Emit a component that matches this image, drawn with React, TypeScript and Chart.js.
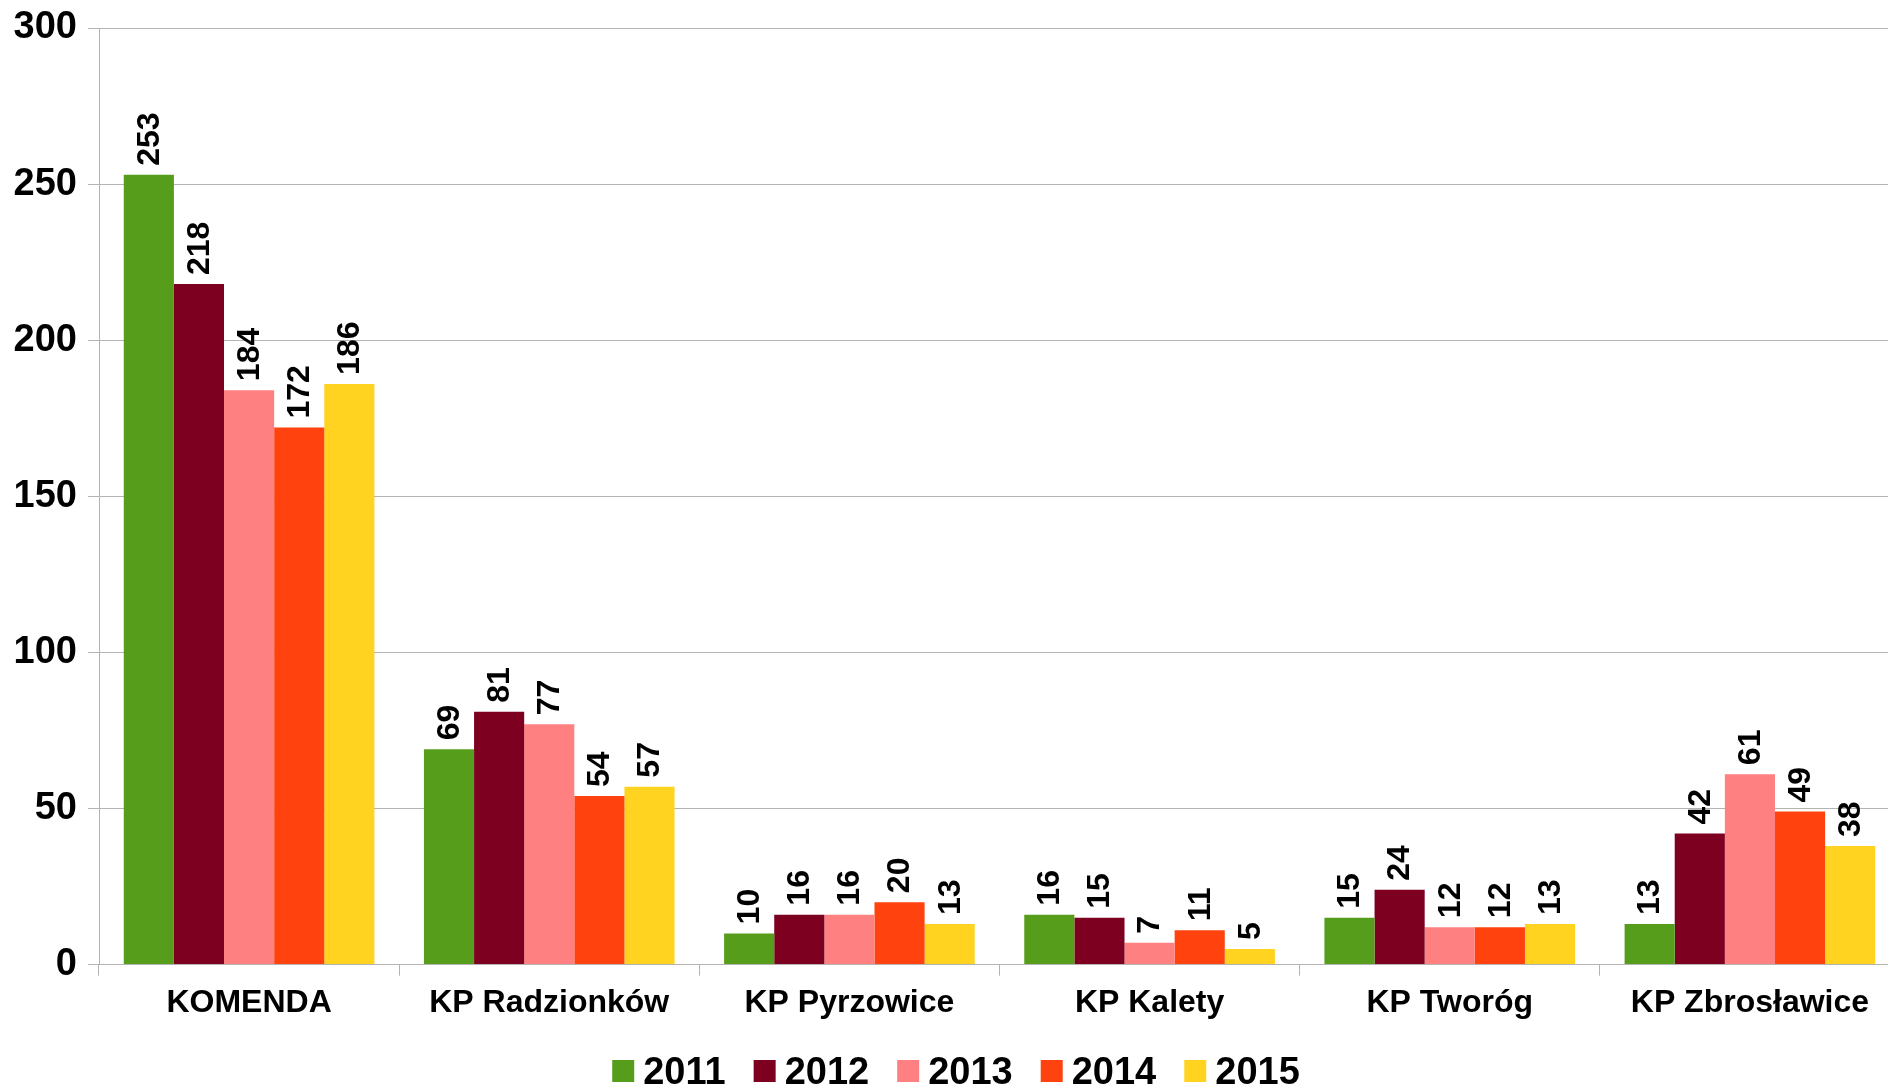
import React, { useEffect, useRef } from "react";
import { Chart, registerables } from "chart.js";

Chart.register(...registerables);

const categories = ["KOMENDA", "KP Radzionków", "KP Pyrzowice", "KP Kalety", "KP Tworóg", "KP Zbrosławice"];
const years = ["2011", "2012", "2013", "2014", "2015"];
const values2011 = [253, 69, 10, 16, 15, 13];
const values2012 = [218, 81, 16, 15, 24, 42];
const values2013 = [184, 77, 16, 7, 12, 61];
const values2014 = [172, 54, 20, 11, 12, 49];
const values2015 = [186, 57, 13, 5, 13, 38];
const seriesColors = ["#579D1C", "#7E0021", "#FF8080", "#FF420E", "#FFD320"];
const yTicks = [0, 50, 100, 150, 200, 250, 300];

const FONT = '"Liberation Sans", Arial, sans-serif';

const dataLabelPlugin = {
  id: "dataLabels",
  afterDatasetsDraw(chart: any) {
    const ctx = chart.ctx;
    chart.data.datasets.forEach((ds: any, i: number) => {
      const meta = chart.getDatasetMeta(i);
      meta.data.forEach((bar: any, j: number) => {
        const v = ds.data[j];
        ctx.save();
        ctx.translate(bar.x, bar.y - 9);
        ctx.rotate(-Math.PI / 2);
        ctx.textAlign = "left";
        ctx.textBaseline = "middle";
        ctx.font = `bold 32px ${FONT}`;
        ctx.fillStyle = "#000";
        ctx.fillText(String(v), 0, 1);
        ctx.restore();
      });
    });
  },
};

const legendPlugin = {
  id: "customLegend",
  afterDraw(chart: any) {
    const ctx = chart.ctx;
    const box = 22;
    const gapText = 9;
    const gapItem = 28;
    ctx.save();
    ctx.font = `bold 38px ${FONT}`;
    const items = chart.data.datasets.map((ds: any) => ({
      label: ds.label,
      color: ds.backgroundColor,
      w: ctx.measureText(ds.label).width,
    }));
    const total =
      items.reduce((s: number, it: any) => s + box + gapText + it.w, 0) + gapItem * (items.length - 1);
    let x = chart.width / 2 + 6 - total / 2;
    const boxTop = 1060;
    const baseline = 1084;
    items.forEach((it: any) => {
      ctx.fillStyle = it.color;
      ctx.fillRect(x, boxTop, box, box);
      x += box + gapText;
      ctx.fillStyle = "#000";
      ctx.textAlign = "left";
      ctx.textBaseline = "alphabetic";
      ctx.fillText(it.label, x, baseline);
      x += it.w + gapItem;
    });
    ctx.restore();
  },
};

export default function App() {
  const ref = useRef<HTMLCanvasElement | null>(null);
  useEffect(() => {
    if (!ref.current) return;
    const all = [values2011, values2012, values2013, values2014, values2015];
    const chart = new Chart(ref.current, {
      type: "bar",
      data: {
        labels: categories,
        datasets: years.map((y, i) => ({
          label: y,
          data: all[i],
          backgroundColor: seriesColors[i],
          borderWidth: 0,
          categoryPercentage: 0.835,
          barPercentage: 1.0,
        })),
      },
      options: {
        responsive: false,
        animation: false,
        layout: { padding: { left: 0, right: 0, top: 28, bottom: 59 } },
        plugins: {
          tooltip: { enabled: false },
          legend: { display: false },
        },
        scales: {
          x: {
            grid: {
              offset: true,
              drawOnChartArea: false,
              drawTicks: true,
              tickLength: 11,
              color: "#b3b3b3",
            },
            border: { color: "#b3b3b3" },
            ticks: {
              color: "#000",
              padding: 8,
              font: { family: FONT, size: 32, weight: "bold" },
            },
          },
          y: {
            min: 0,
            max: 300,
            afterBuildTicks: (scale: any) => {
              scale.ticks = yTicks.map((v) => ({ value: v }));
            },
            afterFit: (scale: any) => {
              scale.width = 99;
              scale.paddingTop = 0;
              scale.paddingBottom = 0;
            },
            grid: { color: "#b3b3b3", tickLength: 11 },
            border: { color: "#b3b3b3" },
            ticks: {
              color: "#000",
              padding: 11,
              font: { family: FONT, size: 38, weight: "bold" },
            },
          },
        },
      },
      plugins: [dataLabelPlugin, legendPlugin],
    });
    return () => chart.destroy();
  }, []);
  return (
    <div style={{ position: "absolute", left: 0, top: 0, width: 1888, height: 1089, overflow: "hidden", background: "#fff" }}>
      <canvas ref={ref} width={1900} height={1089} style={{ display: "block" }} />
    </div>
  );
}
